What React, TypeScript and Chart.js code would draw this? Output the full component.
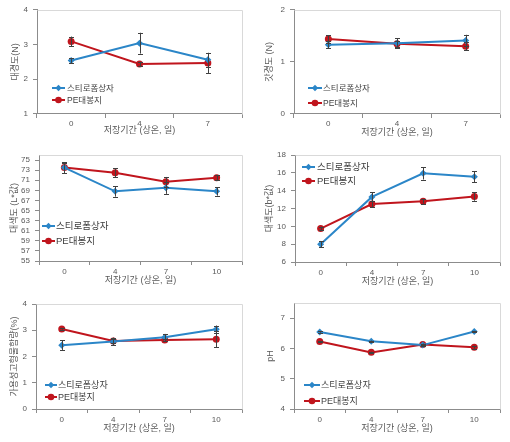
import React, { useEffect, useRef } from "react";
import { Chart, registerables } from "chart.js";
Chart.register(...registerables);

const BLUE_NAME = "스티로폼상자";
const RED_NAME = "PE대봉지";
const X_TITLE = "저장기간 (상온, 일)";

const days3 = ["0", "4", "7"];
const days4 = ["0", "4", "7", "10"];

// 1. 대경도 (N)
const stemStyro = [2.54, 3.04, 2.56];
const stemStyroErr = [0.07, 0.3, 0.2];
const stemPE = [3.09, 2.44, 2.47];
const stemPEErr = [0.14, 0.06, 0.29];
const stemTicks = [1, 2, 3, 4];

// 2. 갓경도 (N)
const capStyro = [1.33, 1.36, 1.41];
const capStyroErr = [0.07, 0.09, 0.11];
const capPE = [1.44, 1.35, 1.3];
const capPEErr = [0.07, 0.06, 0.08];
const capTicks = [0, 1, 2];

// 3. 대색도 (L*값)
const lStyro = [73.5, 68.8, 69.5, 68.8];
const lStyroErr = [1.1, 1.05, 1.2, 0.85];
const lPE = [73.5, 72.5, 70.7, 71.5];
const lPEErr = [1.0, 0.9, 0.95, 0.55];
const lTicks = [55, 57, 59, 61, 63, 65, 67, 69, 71, 73, 75];

// 4. 대색도 (b*값)
const bStyro = [8.0, 13.3, 15.95, 15.55];
const bStyroErr = [0.35, 0.5, 0.7, 0.63];
const bPE = [9.75, 12.5, 12.8, 13.35];
const bPEErr = [0.2, 0.32, 0.25, 0.48];
const bTicks = [6, 8, 10, 12, 14, 16, 18];

// 5. 가용성고형물함량 (%)
const sscStyro = [2.43, 2.57, 2.73, 3.04];
const sscStyroErr = [0.18, 0.15, 0.13, 0.14];
const sscPE = [3.05, 2.59, 2.63, 2.66];
const sscPEErr = [0.03, 0.08, 0.05, 0.3];
const sscTicks = [0, 1, 2, 3, 4];

// 6. pH
const phStyro = [6.54, 6.24, 6.11, 6.56];
const phStyroErr = [0.02, 0.02, 0.03, 0.02];
const phPE = [6.23, 5.87, 6.13, 6.04];
const phPEErr = [0.02, 0.02, 0.03, 0.05];
const phTicks = [4, 5, 6, 7];

const BLUE = "#2b86c8";
const RED = "#c0151d";
const AXIS = "#8c8c8c";
const FRAME = "#d9d9d9";
const TEXT = "#595959";
const FONT = "'Liberation Sans', 'Noto Sans CJK KR', sans-serif";

type Panel = {
  key: string;
  left: number;
  top: number;
  w: number;
  h: number;
  labels: string[];
  styro: number[];
  styroErr: number[];
  pe: number[];
  peErr: number[];
  yTicks: number[];
  yMin: number;
  yMax: number;
  yTitle: string;
  L: number;
  R: number;
  T: number;
  B: number;
  yTitleCx: number;
  xTitleCy: number;
  xLabelPad: number;
  lg: { x0: number; x1: number; tx: number; y1: number; y2: number; font: number };
};

const panels: Panel[] = [
  {
    key: "stem", left: 0, top: 0, w: 255, h: 140, labels: days3,
    styro: stemStyro, styroErr: stemStyroErr, pe: stemPE, peErr: stemPEErr,
    yTicks: stemTicks, yMin: 1, yMax: 4, yTitle: "대경도(N)",
    L: 37, R: 242, T: 7, B: 114, yTitleCx: 16, xTitleCy: 131, xLabelPad: 1,
    lg: { x0: 52, x1: 65, tx: 67, y1: 88, y2: 100, font: 8.5 },
  },
  {
    key: "cap", left: 255, top: 0, w: 255, h: 140, labels: days3,
    styro: capStyro, styroErr: capStyroErr, pe: capPE, peErr: capPEErr,
    yTicks: capTicks, yMin: 0, yMax: 2, yTitle: "갓경도 (N)",
    L: 39, R: 245, T: 7, B: 114, yTitleCx: 15, xTitleCy: 133, xLabelPad: 1,
    lg: { x0: 53, x1: 67, tx: 68, y1: 88, y2: 103, font: 8.5 },
  },
  {
    key: "L", left: 0, top: 140, w: 255, h: 150, labels: days4,
    styro: lStyro, styroErr: lStyroErr, pe: lPE, peErr: lPEErr,
    yTicks: lTicks, yMin: 55, yMax: 76, yTitle: "대색도 (L*값)",
    L: 39, R: 242, T: 15, B: 121, yTitleCx: 15, xTitleCy: 141, xLabelPad: 2,
    lg: { x0: 42, x1: 55, tx: 56, y1: 86, y2: 101, font: 9.5 },
  },
  {
    key: "b", left: 255, top: 140, w: 255, h: 150, labels: days4,
    styro: bStyro, styroErr: bStyroErr, pe: bPE, peErr: bPEErr,
    yTicks: bTicks, yMin: 6, yMax: 18, yTitle: "대색도(b*값)",
    L: 40, R: 245, T: 15, B: 122, yTitleCx: 15, xTitleCy: 142, xLabelPad: 2,
    lg: { x0: 47, x1: 60, tx: 62, y1: 27, y2: 41, font: 9.5 },
  },
  {
    key: "ssc", left: 0, top: 290, w: 255, h: 152, labels: days4,
    styro: sscStyro, styroErr: sscStyroErr, pe: sscPE, peErr: sscPEErr,
    yTicks: sscTicks, yMin: 0, yMax: 4, yTitle: "가용성고형물함량(%)",
    L: 36, R: 242, T: 14, B: 119, yTitleCx: 15, xTitleCy: 139, xLabelPad: 2,
    lg: { x0: 45, x1: 57, tx: 58, y1: 95, y2: 107, font: 9 },
  },
  {
    key: "ph", left: 255, top: 290, w: 255, h: 152, labels: days4,
    styro: phStyro, styroErr: phStyroErr, pe: phPE, peErr: phPEErr,
    yTicks: phTicks, yMin: 4, yMax: 7.5, yTitle: "pH",
    L: 39, R: 245, T: 13, B: 119, yTitleCx: 16, xTitleCy: 139, xLabelPad: 2,
    lg: { x0: 49, x1: 65, tx: 66, y1: 95, y2: 111, font: 9 },
  },
];

function drawMarker(ctx: CanvasRenderingContext2D, kind: string, x: number, y: number, color: string) {
  ctx.save();
  ctx.fillStyle = color;
  ctx.beginPath();
  if (kind === "diamond") {
    const r = 3.2;
    ctx.moveTo(x, y - r);
    ctx.lineTo(x + r, y);
    ctx.lineTo(x, y + r);
    ctx.lineTo(x - r, y);
    ctx.closePath();
  } else {
    ctx.arc(x, y, 3.3, 0, Math.PI * 2);
  }
  ctx.fill();
  ctx.restore();
}

const decorPlugin = {
  id: "decor",
  beforeDatasetsDraw(chart: any) {
    const { ctx, chartArea } = chart;
    ctx.save();
    ctx.strokeStyle = FRAME;
    ctx.lineWidth = 1;
    ctx.beginPath();
    ctx.moveTo(Math.round(chartArea.left) + 0.5, Math.round(chartArea.top) + 0.5);
    ctx.lineTo(Math.round(chartArea.right) + 0.5, Math.round(chartArea.top) + 0.5);
    ctx.lineTo(Math.round(chartArea.right) + 0.5, Math.round(chartArea.bottom) + 0.5);
    ctx.stroke();
    ctx.restore();
  },
  afterDatasetsDraw(chart: any) {
    const { ctx } = chart;
    const yScale = chart.scales.y;
    const xScale = chart.scales.x;
    ctx.save();
    ctx.strokeStyle = "#404040";
    ctx.lineWidth = 1;
    chart.data.datasets.forEach((ds: any) => {
      const errs: number[] = ds.errors || [];
      ds.data.forEach((v: number, i: number) => {
        const e = errs[i];
        if (!e) return;
        const x = Math.round(xScale.getPixelForValue(i)) + 0.5;
        const y1 = yScale.getPixelForValue(v - e);
        const y2 = yScale.getPixelForValue(v + e);
        ctx.beginPath();
        ctx.moveTo(x, y1);
        ctx.lineTo(x, y2);
        ctx.moveTo(x - 2.5, Math.round(y1) + 0.5);
        ctx.lineTo(x + 2.5, Math.round(y1) + 0.5);
        ctx.moveTo(x - 2.5, Math.round(y2) + 0.5);
        ctx.lineTo(x + 2.5, Math.round(y2) + 0.5);
        ctx.stroke();
      });
    });
    ctx.restore();

    const lg = chart.options.plugins.insideLegend;
    if (!lg) return;
    const rows = [
      { y: lg.y1, color: BLUE, kind: "diamond", text: BLUE_NAME },
      { y: lg.y2, color: RED, kind: "circle", text: RED_NAME },
    ];
    ctx.save();
    rows.forEach((r) => {
      ctx.strokeStyle = r.color;
      ctx.lineWidth = 2;
      ctx.beginPath();
      ctx.moveTo(lg.x0, r.y);
      ctx.lineTo(lg.x1, r.y);
      ctx.stroke();
      drawMarker(ctx, r.kind, (lg.x0 + lg.x1) / 2, r.y, r.color);
      ctx.fillStyle = "#404040";
      ctx.font = `${lg.font}px ${FONT}`;
      ctx.textBaseline = "middle";
      ctx.textAlign = "left";
      ctx.fillText(r.text, lg.tx, r.y + 0.5);
    });
    ctx.restore();
  },
};

function PanelChart({ p }: { p: Panel }) {
  const ref = useRef<HTMLCanvasElement | null>(null);
  useEffect(() => {
    if (!ref.current) return;
    const titleFont = 9;
    const titleLH = titleFont * 1.2;
    const padLeft = p.yTitleCx - titleLH / 2;
    const padBottom = p.h - p.xTitleCy - titleLH / 2;
    const yWidth = p.L - padLeft;
    const xHeight = p.h - padBottom - p.B;
    const chart = new Chart(ref.current, {
      type: "line",
      data: {
        labels: p.labels,
        datasets: [
          {
            label: BLUE_NAME,
            data: p.styro,
            errors: p.styroErr,
            borderColor: BLUE,
            backgroundColor: BLUE,
            borderWidth: 2,
            pointStyle: "rectRot",
            pointRadius: 3.5,
            pointBorderWidth: 0,
            tension: 0,
          } as any,
          {
            label: RED_NAME,
            data: p.pe,
            errors: p.peErr,
            borderColor: RED,
            backgroundColor: RED,
            borderWidth: 2,
            pointStyle: "circle",
            pointRadius: 3.5,
            pointBorderWidth: 0,
            tension: 0,
          } as any,
        ],
      },
      options: {
        animation: false,
        responsive: false,
        devicePixelRatio: 1,
        layout: {
          padding: { left: padLeft, right: p.w - p.R, top: p.T, bottom: padBottom },
        },
        plugins: {
          legend: { display: false },
          tooltip: { enabled: false },
          insideLegend: p.lg,
        } as any,
        scales: {
          x: {
            type: "category",
            offset: true,
            grid: {
              display: true,
              drawOnChartArea: false,
              offset: true,
              tickLength: 4,
              color: AXIS,
            },
            border: { color: AXIS, width: 1 },
            ticks: {
              color: TEXT,
              font: { family: FONT, size: 8 },
              padding: p.xLabelPad,
              maxRotation: 0,
              autoSkip: false,
            },
            title: {
              display: true,
              text: X_TITLE,
              color: TEXT,
              font: { family: FONT, size: titleFont },
              padding: { top: 0, bottom: 0 },
            },
            afterFit: (s: any) => {
              s.height = xHeight;
            },
          },
          y: {
            min: p.yMin,
            max: p.yMax,
            grid: {
              display: true,
              drawOnChartArea: false,
              tickLength: 4,
              color: AXIS,
            },
            border: { color: AXIS, width: 1 },
            ticks: {
              color: TEXT,
              font: { family: FONT, size: 8 },
              padding: 5,
              autoSkip: false,
            },
            afterBuildTicks: (axis: any) => {
              axis.ticks = p.yTicks.map((v) => ({ value: v }));
            },
            title: {
              display: true,
              text: p.yTitle,
              color: TEXT,
              font: { family: FONT, size: titleFont },
              padding: { top: 0, bottom: 0 },
            },
            afterFit: (s: any) => {
              s.width = yWidth;
            },
          },
        },
      } as any,
      plugins: [decorPlugin],
    });
    return () => chart.destroy();
  }, [p]);
  return (
    <div style={{ position: "absolute", left: p.left, top: p.top, width: p.w, height: p.h }}>
      <canvas ref={ref} width={p.w} height={p.h} style={{ display: "block", width: p.w, height: p.h }} />
    </div>
  );
}

export default function App() {
  return (
    <div style={{ position: "absolute", left: 0, top: 0, width: 510, height: 442, background: "#ffffff" }}>
      {panels.map((p) => (
        <PanelChart key={p.key} p={p} />
      ))}
    </div>
  );
}
